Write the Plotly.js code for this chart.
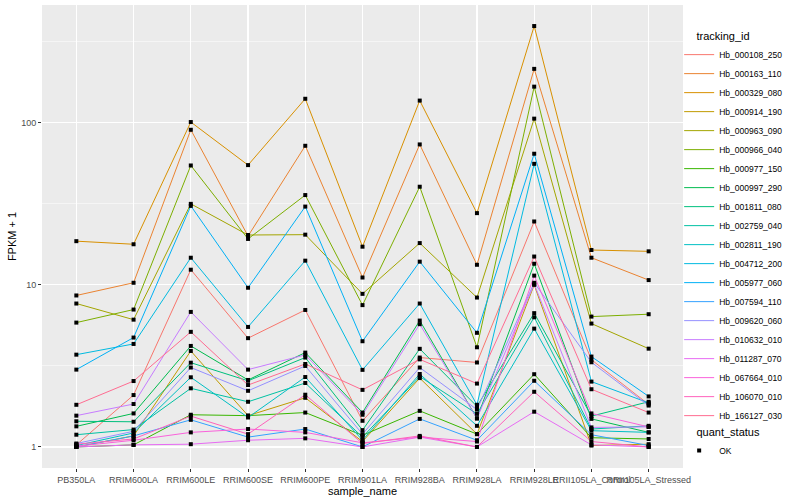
<!DOCTYPE html>
<html>
<head>
<meta charset="utf-8">
<script src="https://cdn.plot.ly/plotly-3.0.1.min.js"></script>
<style>body{margin:0;background:#fff;} #chart{width:800px;height:500px;}</style>
</head>
<body>
<div id="chart"></div>
<script>
// ---- data ----
const samples = ["PB350LA","RRIM600LA","RRIM600LE","RRIM600SE","RRIM600PE","RRIM901LA","RRIM928BA","RRIM928LA","RRIM928LE","RRII105LA_Control","RRII105LA_Stressed"];
const trackingIds = ["Hb_000108_250","Hb_000163_110","Hb_000329_080","Hb_000914_190","Hb_000963_090","Hb_000966_040","Hb_000977_150","Hb_000997_290","Hb_001811_080","Hb_002759_040","Hb_002811_190","Hb_004712_200","Hb_005977_060","Hb_007594_110","Hb_009620_060","Hb_010632_010","Hb_011287_070","Hb_067664_010","Hb_106070_010","Hb_166127_030"];
const colors = ["#F8766D","#EA8331","#D89000","#C09B00","#A3A500","#7CAE00","#39B600","#00BB4E","#00BF7D","#00C1A3","#00BFC4","#00BAE0","#00B0F6","#35A2FF","#9590FF","#C77CFF","#E76BF3","#FA62DB","#FF62BC","#FF6C91"];

const Hb_000108_250 = [1.03, 2.09, 12.4, 4.69, 7.0, 1.45, 3.56, 3.32, 24.6, 3.45, 1.83];
const Hb_000163_110 = [8.6, 10.3, 90.5, 20.0, 72.1, 11.1, 73.5, 13.3, 215, 14.7, 10.7];
const Hb_000329_080 = [18.6, 17.8, 101, 54.8, 140.6, 17.2, 137, 27.7, 395, 16.4, 16.1];
const Hb_000914_190 = [1.0, 1.17, 3.91, 1.56, 2.01, 1.08, 2.66, 1.2, 10.0, 1.02, 1.04];
const Hb_000963_090 = [7.67, 6.1, 31.6, 20.3, 20.4, 8.8, 18.1, 8.35, 106, 5.77, 4.04];
const Hb_000966_040 = [5.85, 7.04, 54.5, 19.2, 35.8, 7.5, 40.3, 4.12, 167, 6.37, 6.59];
const Hb_000977_150 = [1.0, 1.03, 1.58, 1.56, 1.63, 1.18, 1.67, 1.2, 2.81, 1.14, 1.12];
const Hb_000997_290 = [1.34, 1.61, 4.2, 2.59, 3.82, 1.63, 6.02, 1.5, 13.5, 1.49, 1.23];
const Hb_001811_080 = [1.44, 1.43, 3.31, 2.56, 3.56, 1.27, 4.03, 1.78, 6.69, 1.55, 1.9];
const Hb_002759_040 = [1.19, 1.28, 2.3, 1.9, 2.48, 1.15, 2.72, 1.6, 6.31, 1.29, 1.35];
const Hb_002811_190 = [1.02, 1.22, 2.69, 1.52, 2.7, 1.1, 2.82, 1.35, 5.37, 1.26, 1.23];
const Hb_004712_200 = [3.71, 4.32, 14.7, 5.5, 14.1, 2.99, 7.67, 1.82, 55.8, 2.53, 1.87];
const Hb_005977_060 = [3.0, 4.73, 30.7, 9.6, 30.4, 4.49, 13.9, 5.06, 64.4, 3.61, 2.05];
const Hb_007594_110 = [1.0, 1.17, 1.47, 1.15, 1.29, 1.0, 1.49, 1.1, 2.56, 1.19, 1.02];
const Hb_009620_060 = [1.05, 1.25, 3.09, 2.22, 3.16, 1.2, 3.09, 1.7, 10.3, 3.33, 1.8];
const Hb_010632_010 = [1.56, 1.84, 6.81, 3.0, 3.7, 1.58, 5.72, 1.5, 10.1, 1.32, 1.33];
const Hb_011287_070 = [1.0, 1.03, 1.04, 1.1, 1.13, 1.0, 1.15, 1.0, 1.65, 1.03, 1.0];
const Hb_067664_010 = [1.01, 1.1, 1.23, 1.29, 1.23, 1.06, 1.15, 1.08, 11.4, 1.61, 1.33];
const Hb_106070_010 = [1.04, 1.12, 1.55, 1.2, 2.1, 1.05, 1.17, 1.0, 2.19, 1.08, 1.0];
const Hb_166127_030 = [1.82, 2.55, 5.13, 2.41, 3.25, 2.25, 3.47, 2.46, 14.95, 2.27, 1.63];

const seriesValues = [Hb_000108_250, Hb_000163_110, Hb_000329_080, Hb_000914_190, Hb_000963_090, Hb_000966_040, Hb_000977_150, Hb_000997_290, Hb_001811_080, Hb_002759_040, Hb_002811_190, Hb_004712_200, Hb_005977_060, Hb_007594_110, Hb_009620_060, Hb_010632_010, Hb_011287_070, Hb_067664_010, Hb_106070_010, Hb_166127_030];

// ---- traces ----
const traces = [];
trackingIds.forEach((id, i) => {
  traces.push({
    type: 'scatter', mode: 'lines', name: id,
    x: samples, y: seriesValues[i],
    line: {color: colors[i], width: 1},
    legend: 'legend', hoverinfo: 'x+y+name'
  });
});
const px = [], py = [];
seriesValues.forEach(v => v.forEach((val, j) => { px.push(samples[j]); py.push(val); }));
traces.push({
  type: 'scatter', mode: 'markers', name: 'OK', x: px, y: py,
  marker: {color: '#000000', symbol: 'square', size: 4},
  legend: 'legend2'
});

// log range with 5% expansion (ggplot style)
const allLog = py.map(v => Math.log10(v));
const lo = Math.min(...allLog), hi = Math.max(...allLog);
const pad = (hi - lo) * 0.05;

const tickFont = {family: 'Liberation Sans, Arial, sans-serif', size: 9, color: '#4D4D4D'};
const layout = {
  width: 800, height: 500,
  margin: {l: 42, r: 117, t: 5, b: 32, autoexpand: false},
  paper_bgcolor: '#FFFFFF', plot_bgcolor: '#EBEBEB',
  font: {family: 'Liberation Sans, Arial, sans-serif', color: '#000000'},
  showlegend: true,
  xaxis: {
    type: 'category', range: [-0.6, samples.length - 0.4],
    showgrid: true, gridcolor: '#FFFFFF', gridwidth: 1.1,
    zeroline: false, showline: false,
    ticks: 'outside', ticklen: 3, tickcolor: '#333333', tickwidth: 1,
    tickfont: tickFont, tickangle: 0,
    title: {text: 'sample_name', font: {size: 11, color: '#000000'}, standoff: 0}
  },
  yaxis: {
    type: 'log', range: [lo - pad, hi + pad],
    tickvals: [1, 10, 100], ticktext: ['1', '10', '100'],
    showgrid: true, gridcolor: '#FFFFFF', gridwidth: 1.1,
    minor: {tickvals: [Math.sqrt(10), Math.sqrt(1000), Math.sqrt(100000)], showgrid: true, gridcolor: '#FFFFFF', gridwidth: 0.5, ticklen: 0},
    zeroline: false, showline: false,
    ticks: 'outside', ticklen: 3, tickcolor: '#333333', tickwidth: 1,
    tickfont: tickFont,
    title: {text: 'FPKM + 1', font: {size: 11, color: '#000000'}, standoff: 2}
  },
  legend: {
    x: 0.994, xanchor: 'left', y: 0.955, yanchor: 'top',
    title: {text: '&nbsp;&nbsp;&nbsp;&nbsp;&nbsp;tracking_id', font: {size: 11}},
    font: {size: 8.5, color: '#000000'}, bgcolor: 'rgba(0,0,0,0)',
    tracegroupgap: 0, itemwidth: 30
  },
  legend2: {
    x: 0.994, xanchor: 'left', y: 0.1, yanchor: 'top',
    title: {text: '&nbsp;&nbsp;&nbsp;&nbsp;&nbsp;quant_status', font: {size: 11}},
    font: {size: 8.5, color: '#000000'}, bgcolor: 'rgba(0,0,0,0)',
    itemwidth: 30
  }
};

Plotly.newPlot('chart', traces, layout, {displayModeBar: false, staticPlot: true});
</script>
</body>
</html>
